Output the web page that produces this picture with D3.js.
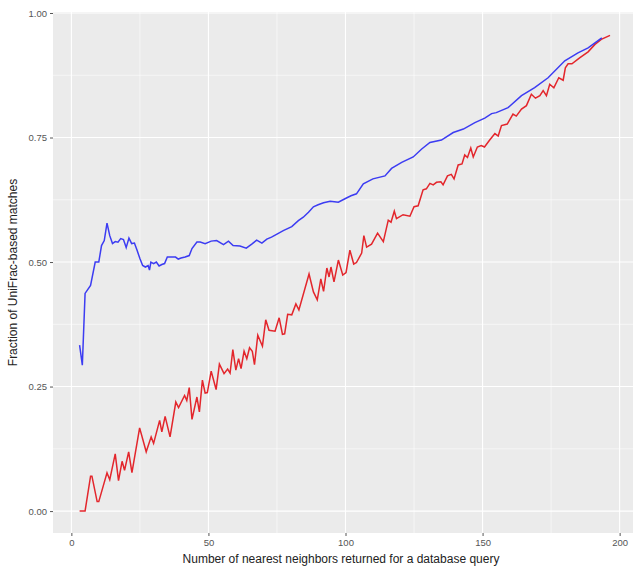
<!DOCTYPE html>
<html>
<head>
<meta charset="utf-8">
<script src="https://cdn.jsdelivr.net/npm/d3@7"></script>
<style>
body{margin:0;background:#fff;}
text{font-family:"Liberation Sans",Arial,sans-serif;}
</style>
</head>
<body>
<script>
var width = 633
var height = 569

// neighbours (x) and fraction of UniFrac-based matches (y)
var blueX = [3,4,5,7,8.7,10,11,12,13,14,15,16,17,18,19,20,21,22,23,24,25,26,27,28,28.5,29,30,31,32,33,34,35,36.5,38,39,40,41.5,43,44,45.8,47,48.8,51,53,55.5,57.3,59,61.5,63.8,65.8,67.6,69.5,71.3,73,75,77.3,80.4,82.8,84.6,86.5,88.3,90,92,94.4,97.4,99.8,102,104,106.5,110,114.4,116.8,120.5,124.7,127.8,130.8,135,139.3,143,147.2,150.8,153.3,155,159.3,164.2,169,173.9,180,184.8,188.5,191,193.5];
var blueY = [0.333,0.293,0.437,0.453,0.50,0.50,0.533,0.543,0.578,0.553,0.537,0.541,0.54,0.547,0.545,0.529,0.548,0.537,0.538,0.523,0.507,0.493,0.49,0.493,0.484,0.50,0.497,0.50,0.492,0.495,0.497,0.51,0.51,0.51,0.506,0.508,0.51,0.513,0.527,0.54,0.54,0.537,0.542,0.543,0.535,0.542,0.533,0.532,0.528,0.536,0.544,0.538,0.546,0.55,0.556,0.563,0.571,0.583,0.59,0.60,0.611,0.615,0.619,0.622,0.62,0.627,0.633,0.637,0.657,0.667,0.673,0.688,0.70,0.711,0.727,0.74,0.745,0.76,0.767,0.78,0.789,0.798,0.80,0.81,0.834,0.85,0.87,0.904,0.92,0.93,0.94,0.95];

var redX = [3,5,7,7.5,9.4,10,13,14,16,17.2,18.5,19.4,20.9,22.1,24.9,27.3,29.1,30,32.2,33,34.2,36,38.1,39.1,41.3,42.1,43,44,45.8,46.7,47.8,48.8,49.6,51,52.8,54,55.7,57,57.9,58.9,60,61,61.9,63,64,65,66,66.8,68,69.7,70.9,72.1,74.3,75.8,77,77.8,78.9,80.4,81.9,83,86.7,88.3,89.7,91,92,93.2,94,94.7,95.8,97.4,99,100.2,101.6,103,104,105.9,106.7,107.7,109.5,111.7,113.8,115.6,116.6,117.8,118.6,121,123.5,125,126.5,128.3,129.5,130.8,132,133.2,134.8,135.6,137.2,138.6,139.6,141.1,142.5,143.5,144.5,145.7,146.6,148.1,149.5,150.7,152.6,154.5,155.7,156.9,159,161.1,162.3,164.2,166,167.8,169.3,170.9,172.1,173.3,174.5,176,177.8,179.4,180.2,181.2,182.6,185.4,188.5,191,193.3,196.5];
var redY = [0,0,0.07,0.07,0.019,0.019,0.077,0.063,0.115,0.061,0.10,0.082,0.119,0.077,0.167,0.119,0.149,0.136,0.182,0.159,0.19,0.149,0.219,0.208,0.232,0.222,0.248,0.184,0.229,0.199,0.263,0.237,0.238,0.281,0.244,0.295,0.276,0.285,0.277,0.324,0.283,0.306,0.286,0.321,0.306,0.328,0.321,0.294,0.353,0.331,0.384,0.363,0.361,0.388,0.355,0.356,0.395,0.394,0.416,0.404,0.476,0.44,0.424,0.466,0.441,0.488,0.47,0.49,0.46,0.504,0.474,0.479,0.524,0.496,0.499,0.518,0.553,0.53,0.536,0.558,0.541,0.584,0.58,0.602,0.587,0.595,0.592,0.611,0.613,0.645,0.647,0.658,0.655,0.66,0.661,0.655,0.673,0.676,0.667,0.695,0.697,0.715,0.71,0.729,0.711,0.731,0.734,0.731,0.745,0.758,0.753,0.774,0.777,0.797,0.793,0.807,0.814,0.837,0.829,0.834,0.844,0.834,0.857,0.85,0.87,0.865,0.89,0.898,0.898,0.91,0.922,0.937,0.947,0.955];

var xTicks = [0,50,100,150,200];
var xMinor = [25,75,125,175];
var yTicks = [0,0.25,0.5,0.75,1];
var yMinor = [0.125,0.375,0.625,0.875];

// panel edges (window.top is read-only, so no plain "top")
var panelL = 53, panelR = 638, panelT = 12, panelB = 533;

var svg = d3.select("body").append("svg")
            .attr("width",width)
            .attr("height",height);

var x = d3.scaleLinear().domain([-6.7,206.7]).range([panelL,panelR]);
var y = d3.scaleLinear().domain([-0.044,1.002]).range([panelB,panelT]);

svg.append("rect")
   .attr("x",panelL).attr("y",panelT)
   .attr("width",panelR-panelL).attr("height",panelB-panelT)
   .style("fill","#ebebeb");

// minor grid then major grid
svg.selectAll(".vminor").data(xMinor).enter().append("line")
   .attr("x1",d=>x(d)).attr("x2",d=>x(d)).attr("y1",panelT).attr("y2",panelB)
   .style("stroke","#fff").style("stroke-width",0.55);
svg.selectAll(".hminor").data(yMinor).enter().append("line")
   .attr("y1",d=>y(d)).attr("y2",d=>y(d)).attr("x1",panelL).attr("x2",panelR)
   .style("stroke","#fff").style("stroke-width",0.55);
svg.selectAll(".vmajor").data(xTicks).enter().append("line")
   .attr("x1",d=>x(d)).attr("x2",d=>x(d)).attr("y1",panelT).attr("y2",panelB)
   .style("stroke","#fff").style("stroke-width",1.1);
svg.selectAll(".hmajor").data(yTicks).enter().append("line")
   .attr("y1",d=>y(d)).attr("y2",d=>y(d)).attr("x1",panelL).attr("x2",panelR)
   .style("stroke","#fff").style("stroke-width",1.1);

var line = d3.line().x(d=>x(d[0])).y(d=>y(d[1]));

svg.append("path")
   .datum(d3.zip(redX,redY))
   .attr("d",line)
   .style("fill","none").style("stroke","#e3262c").style("stroke-width",1.5);
svg.append("path")
   .datum(d3.zip(blueX,blueY))
   .attr("d",line)
   .style("fill","none").style("stroke","#3c3cf2").style("stroke-width",1.5);

// axes
var xAxis = d3.axisBottom(x).tickValues(xTicks).tickSize(3).tickPadding(3).tickFormat(d3.format("d"));
var yAxis = d3.axisLeft(y).tickValues(yTicks).tickSize(3).tickPadding(3).tickFormat(d3.format(".2f"));

var gx = svg.append("g").attr("transform","translate(0,"+panelB+")").call(xAxis);
var gy = svg.append("g").attr("transform","translate("+panelL+",0)").call(yAxis);
[gx,gy].forEach(function(g){
    g.select(".domain").remove();
    g.selectAll(".tick line").style("stroke","#555");
    g.selectAll(".tick text").style("fill","#555").style("font-size","9.5px")
     .style("font-family","'Liberation Sans',Arial,sans-serif");
});

svg.append("text")
   .attr("x",(panelL+633)/2 - 2).attr("y",563)
   .attr("text-anchor","middle")
   .style("font-size","12px").style("fill","#222")
   .text("Number of nearest neighbors returned for a database query");

svg.append("text")
   .attr("transform","translate(17,"+((panelT+panelB)/2)+") rotate(-90)")
   .attr("text-anchor","middle")
   .style("font-size","12px").style("fill","#222")
   .text("Fraction of UniFrac-based matches");
</script>
</body>
</html>
